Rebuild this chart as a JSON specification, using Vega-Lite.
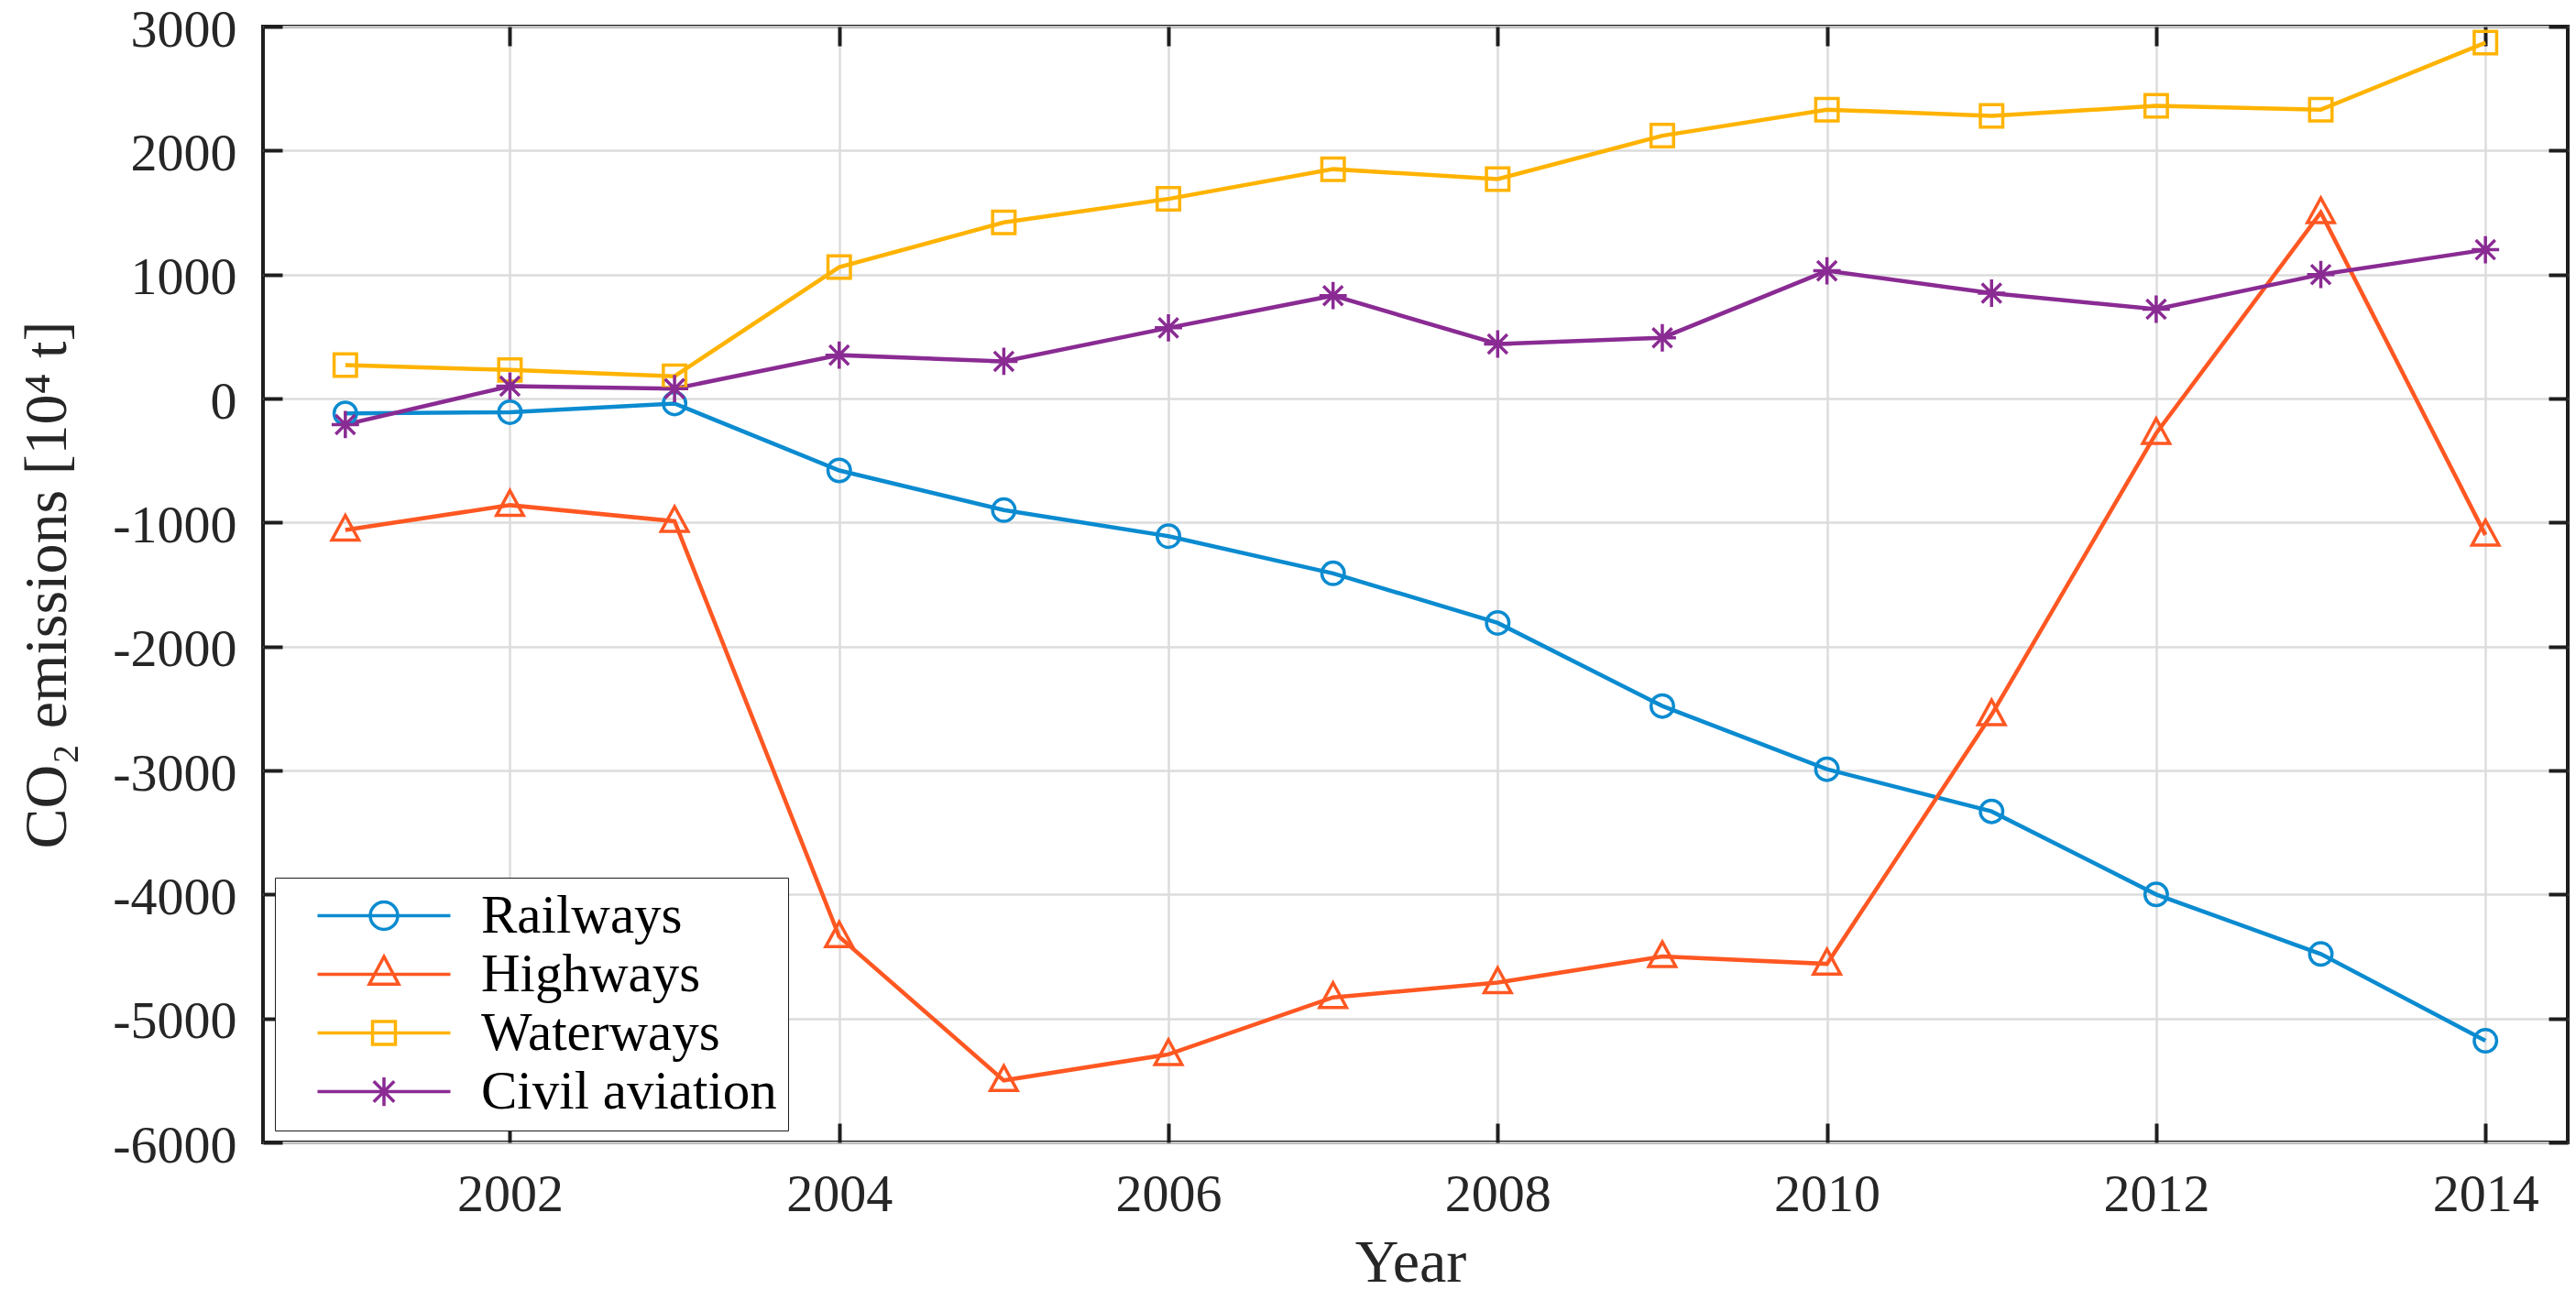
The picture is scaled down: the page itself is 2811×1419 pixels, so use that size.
{
  "$schema": "https://vega.github.io/schema/vega-lite/v6.json",
  "width": 2515,
  "height": 1218,
  "autosize": "none",
  "padding": {"left": 287, "top": 29, "right": 9, "bottom": 172},
  "background": "white",
  "config": {
    "view": {"stroke": "#1e1e1e", "strokeWidth": 4},
    "font": "Liberation Serif",
    "axis": {
      "domain": false,
      "labelFont": "Liberation Serif",
      "labelFontSize": 58,
      "labelColor": "#262626",
      "tickColor": "#1e1e1e",
      "tickWidth": 4,
      "tickSize": -21,
      "gridColor": "#DCDCDC",
      "gridWidth": 2.5,
      "titleFont": "Liberation Serif",
      "titleFontSize": 66,
      "titleFontWeight": "normal",
      "titleColor": "#262626"
    },
    "legend": {
      "title": null,
      "orient": "bottom-left",
      "offset": 13,
      "padding": 12,
      "rowPadding": 4,
      "strokeColor": "#1e1e1e",
      "fillColor": "white",
      "labelFont": "Liberation Serif",
      "labelFontSize": 59,
      "labelColor": "#000000",
      "labelLimit": 800,
      "symbolSize": 625,
      "symbolStrokeWidth": 3.5,
      "symbolOffset": 77.5,
      "labelOffset": 76.5
    }
  },
  "data": {
    "values": [
      {"year": 2001, "series": "Railways", "value": -120},
      {"year": 2002, "series": "Railways", "value": -110},
      {"year": 2003, "series": "Railways", "value": -40},
      {"year": 2004, "series": "Railways", "value": -580},
      {"year": 2005, "series": "Railways", "value": -900},
      {"year": 2006, "series": "Railways", "value": -1110},
      {"year": 2007, "series": "Railways", "value": -1410},
      {"year": 2008, "series": "Railways", "value": -1810},
      {"year": 2009, "series": "Railways", "value": -2480},
      {"year": 2010, "series": "Railways", "value": -2990},
      {"year": 2011, "series": "Railways", "value": -3330},
      {"year": 2012, "series": "Railways", "value": -4000},
      {"year": 2013, "series": "Railways", "value": -4480},
      {"year": 2014, "series": "Railways", "value": -5180},
      {"year": 2001, "series": "Highways", "value": -1060},
      {"year": 2002, "series": "Highways", "value": -860},
      {"year": 2003, "series": "Highways", "value": -990},
      {"year": 2004, "series": "Highways", "value": -4340},
      {"year": 2005, "series": "Highways", "value": -5500},
      {"year": 2006, "series": "Highways", "value": -5290},
      {"year": 2007, "series": "Highways", "value": -4830},
      {"year": 2008, "series": "Highways", "value": -4710},
      {"year": 2009, "series": "Highways", "value": -4500},
      {"year": 2010, "series": "Highways", "value": -4560},
      {"year": 2011, "series": "Highways", "value": -2550},
      {"year": 2012, "series": "Highways", "value": -280},
      {"year": 2013, "series": "Highways", "value": 1500},
      {"year": 2014, "series": "Highways", "value": -1100},
      {"year": 2001, "series": "Waterways", "value": 270},
      {"year": 2002, "series": "Waterways", "value": 230},
      {"year": 2003, "series": "Waterways", "value": 180},
      {"year": 2004, "series": "Waterways", "value": 1060},
      {"year": 2005, "series": "Waterways", "value": 1420},
      {"year": 2006, "series": "Waterways", "value": 1610},
      {"year": 2007, "series": "Waterways", "value": 1850},
      {"year": 2008, "series": "Waterways", "value": 1770},
      {"year": 2009, "series": "Waterways", "value": 2120},
      {"year": 2010, "series": "Waterways", "value": 2330},
      {"year": 2011, "series": "Waterways", "value": 2280},
      {"year": 2012, "series": "Waterways", "value": 2360},
      {"year": 2013, "series": "Waterways", "value": 2330},
      {"year": 2014, "series": "Waterways", "value": 2870},
      {"year": 2001, "series": "Civil aviation", "value": -210},
      {"year": 2002, "series": "Civil aviation", "value": 100},
      {"year": 2003, "series": "Civil aviation", "value": 80},
      {"year": 2004, "series": "Civil aviation", "value": 350},
      {"year": 2005, "series": "Civil aviation", "value": 300},
      {"year": 2006, "series": "Civil aviation", "value": 570},
      {"year": 2007, "series": "Civil aviation", "value": 830},
      {"year": 2008, "series": "Civil aviation", "value": 440},
      {"year": 2009, "series": "Civil aviation", "value": 490},
      {"year": 2010, "series": "Civil aviation", "value": 1030},
      {"year": 2011, "series": "Civil aviation", "value": 850},
      {"year": 2012, "series": "Civil aviation", "value": 720},
      {"year": 2013, "series": "Civil aviation", "value": 1000},
      {"year": 2014, "series": "Civil aviation", "value": 1200}
    ]
  },
  "layer": [
    {
      "mark": {"type": "line", "strokeWidth": 4.5},
      "encoding": {
        "x": {
          "field": "year", "type": "quantitative",
          "scale": {"domain": [2000.5, 2014.5], "nice": false, "zero": false},
          "axis": {
            "orient": "bottom", "grid": true, "title": "Year",
            "values": [2002, 2004, 2006, 2008, 2010, 2012, 2014],
            "labelExpr": "'' + datum.value",
            "labelPadding": 49,
            "titleX": 1252, "titleY": 151, "titleBaseline": "alphabetic"
          }
        },
        "y": {
          "field": "value", "type": "quantitative",
          "scale": {"domain": [-6000, 3000], "nice": false},
          "axis": {
            "orient": "left", "grid": true, "title": "CO₂ emissions [10⁴ t]",
            "values": [-6000, -5000, -4000, -3000, -2000, -1000, 0, 1000, 2000, 3000],
            "labelExpr": "'' + datum.value",
            "labelPadding": 50,
            "labelOffset": 4,
            "titleX": -216, "titleY": 609, "titleBaseline": "alphabetic"
          }
        },
        "color": {
          "field": "series", "type": "nominal",
          "scale": {
            "domain": ["Railways", "Highways", "Waterways", "Civil aviation"],
            "range": ["#0B8BD0", "#FF5722", "#FFB300", "#8A2B93"]
          },
          "legend": null
        }
      }
    },
    {
      "mark": {"type": "point", "filled": false, "strokeWidth": 3.5, "size": 600, "opacity": 1},
      "encoding": {
        "x": {
          "field": "year", "type": "quantitative",
          "axis": {
            "orient": "top", "grid": false, "labels": false, "title": null,
            "values": [2002, 2004, 2006, 2008, 2010, 2012, 2014]
          }
        },
        "y": {
          "field": "value", "type": "quantitative",
          "axis": {
            "orient": "right", "grid": false, "labels": false, "title": null,
            "values": [-6000, -5000, -4000, -3000, -2000, -1000, 0, 1000, 2000, 3000]
          }
        },
        "color": {"field": "series", "type": "nominal", "legend": null},
        "shape": {
          "field": "series", "type": "nominal",
          "scale": {
            "domain": ["Railways", "Highways", "Waterways", "Civil aviation"],
            "range": [
              "circle",
              "M0,-1.3L1.2,0.9L-1.2,0.9Z",
              "square",
              "M-1.22,0L1.22,0M0,-1.22L0,1.22M-0.86,-0.86L0.86,0.86M-0.86,0.86L0.86,-0.86"
            ]
          },
          "legend": null
        }
      }
    },
    {
      "transform": [{"filter": "false"}],
      "mark": {"type": "point", "filled": false, "strokeWidth": 3.5, "size": 625, "opacity": 1},
      "encoding": {
        "x": {"field": "year", "type": "quantitative", "axis": null},
        "y": {"field": "value", "type": "quantitative", "axis": null},
        "color": {
          "field": "series", "type": "nominal",
          "legend": {
            "labelLimit": 800,
            "encode": {"legend": {"update": {"strokeWidth": {"value": 3.5}}}}
          }
        },
        "shape": {
          "field": "series", "type": "nominal",
          "scale": {
            "domain": ["Railways", "Highways", "Waterways", "Civil aviation"],
            "range": [
              "M-5.8,0L5.8,0M-1.2,0A1.2,1.2,0,1,1,1.2,0A1.2,1.2,0,1,1,-1.2,0",
              "M-5.8,0L5.8,0M0,-1.55L1.28,0.85L-1.28,0.85Z",
              "M-5.8,0L5.8,0M-1,-1L1,-1L1,1L-1,1Z",
              "M-5.8,0L5.8,0M0,-1.25L0,1.25M-0.9,-0.9L0.9,0.9M-0.9,0.9L0.9,-0.9"
            ]
          },
          "legend": {
            "labelLimit": 800,
            "encode": {"legend": {"update": {"strokeWidth": {"value": 3.5}}}}
          }
        }
      }
    }
  ],
  "resolve": {
    "axis": {"x": "independent", "y": "independent"},
    "scale": {"shape": "independent"},
    "legend": {"color": "independent", "shape": "independent"}
  }
}
